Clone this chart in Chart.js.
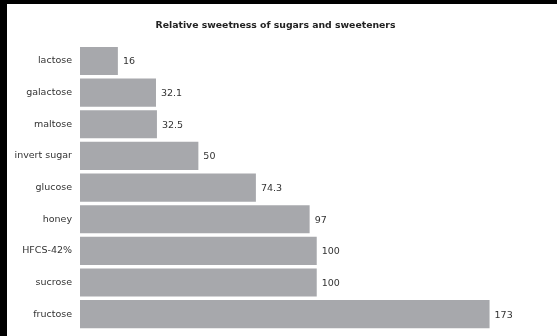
<!DOCTYPE html>
<html>
<head>
<meta charset="utf-8">
<script src="https://cdn.jsdelivr.net/npm/chart.js@4"></script>
<style>
  html, body { margin: 0; padding: 0; background: #000; overflow: hidden; }
  #c { position: absolute; left: 7px; top: 4px; background: #fff; }
</style>
</head>
<body>
<canvas id="c" width="550" height="332"></canvas>
<script>
// data
var sugars = ['lactose', 'galactose', 'maltose', 'invert sugar', 'glucose', 'honey', 'HFCS-42%', 'sucrose', 'fructose'];
var sweetness = [16, 32.1, 32.5, 50, 74.3, 97, 100, 100, 173];
var valueLabels = ['16', '32.1', '32.5', '50', '74.3', '97', '100', '100', '173'];

var FONT = '"DejaVu Sans", sans-serif';

// draw the number next to each bar end
var barValues = {
  id: 'barValues',
  afterDatasetsDraw: function(chart) {
    var ctx = chart.ctx;
    var meta = chart.getDatasetMeta(0);
    ctx.save();
    ctx.font = '9.5px ' + FONT;
    ctx.fillStyle = '#333';
    ctx.textAlign = 'left';
    ctx.textBaseline = 'middle';
    meta.data.forEach(function(bar, i) {
      ctx.fillText(valueLabels[i], bar.x + 5, bar.y + 1);
    });
    ctx.restore();
  }
};

new Chart(document.getElementById('c'), {
  type: 'bar',
  data: {
    labels: sugars,
    datasets: [{
      data: sweetness,
      backgroundColor: '#a7a8ac',
      borderWidth: 0,
      categoryPercentage: 0.89,
      barPercentage: 1
    }]
  },
  options: {
    indexAxis: 'y',
    responsive: false,
    animation: false,
    layout: { padding: { left: 0, right: 13, top: 0, bottom: 6 } },
    plugins: {
      legend: { display: false },
      tooltip: { enabled: false },
      title: {
        display: true,
        text: 'Relative sweetness of sugars and sweeteners',
        color: '#222',
        font: { family: FONT, size: 9.3, weight: 'bold' },
        padding: { top: 16, bottom: 14 }
      }
    },
    scales: {
      x: { display: false, min: 0, max: 196 },
      y: {
        grid: { display: false, drawTicks: false },
        border: { display: false },
        ticks: { color: '#333', padding: 8, font: { family: FONT, size: 9.5 } },
        afterFit: function(s) {
          s.width = 73;
          s.paddingTop = 0;
          s.paddingBottom = 0;
        }
      }
    }
  },
  plugins: [barValues]
});
</script>
</body>
</html>
